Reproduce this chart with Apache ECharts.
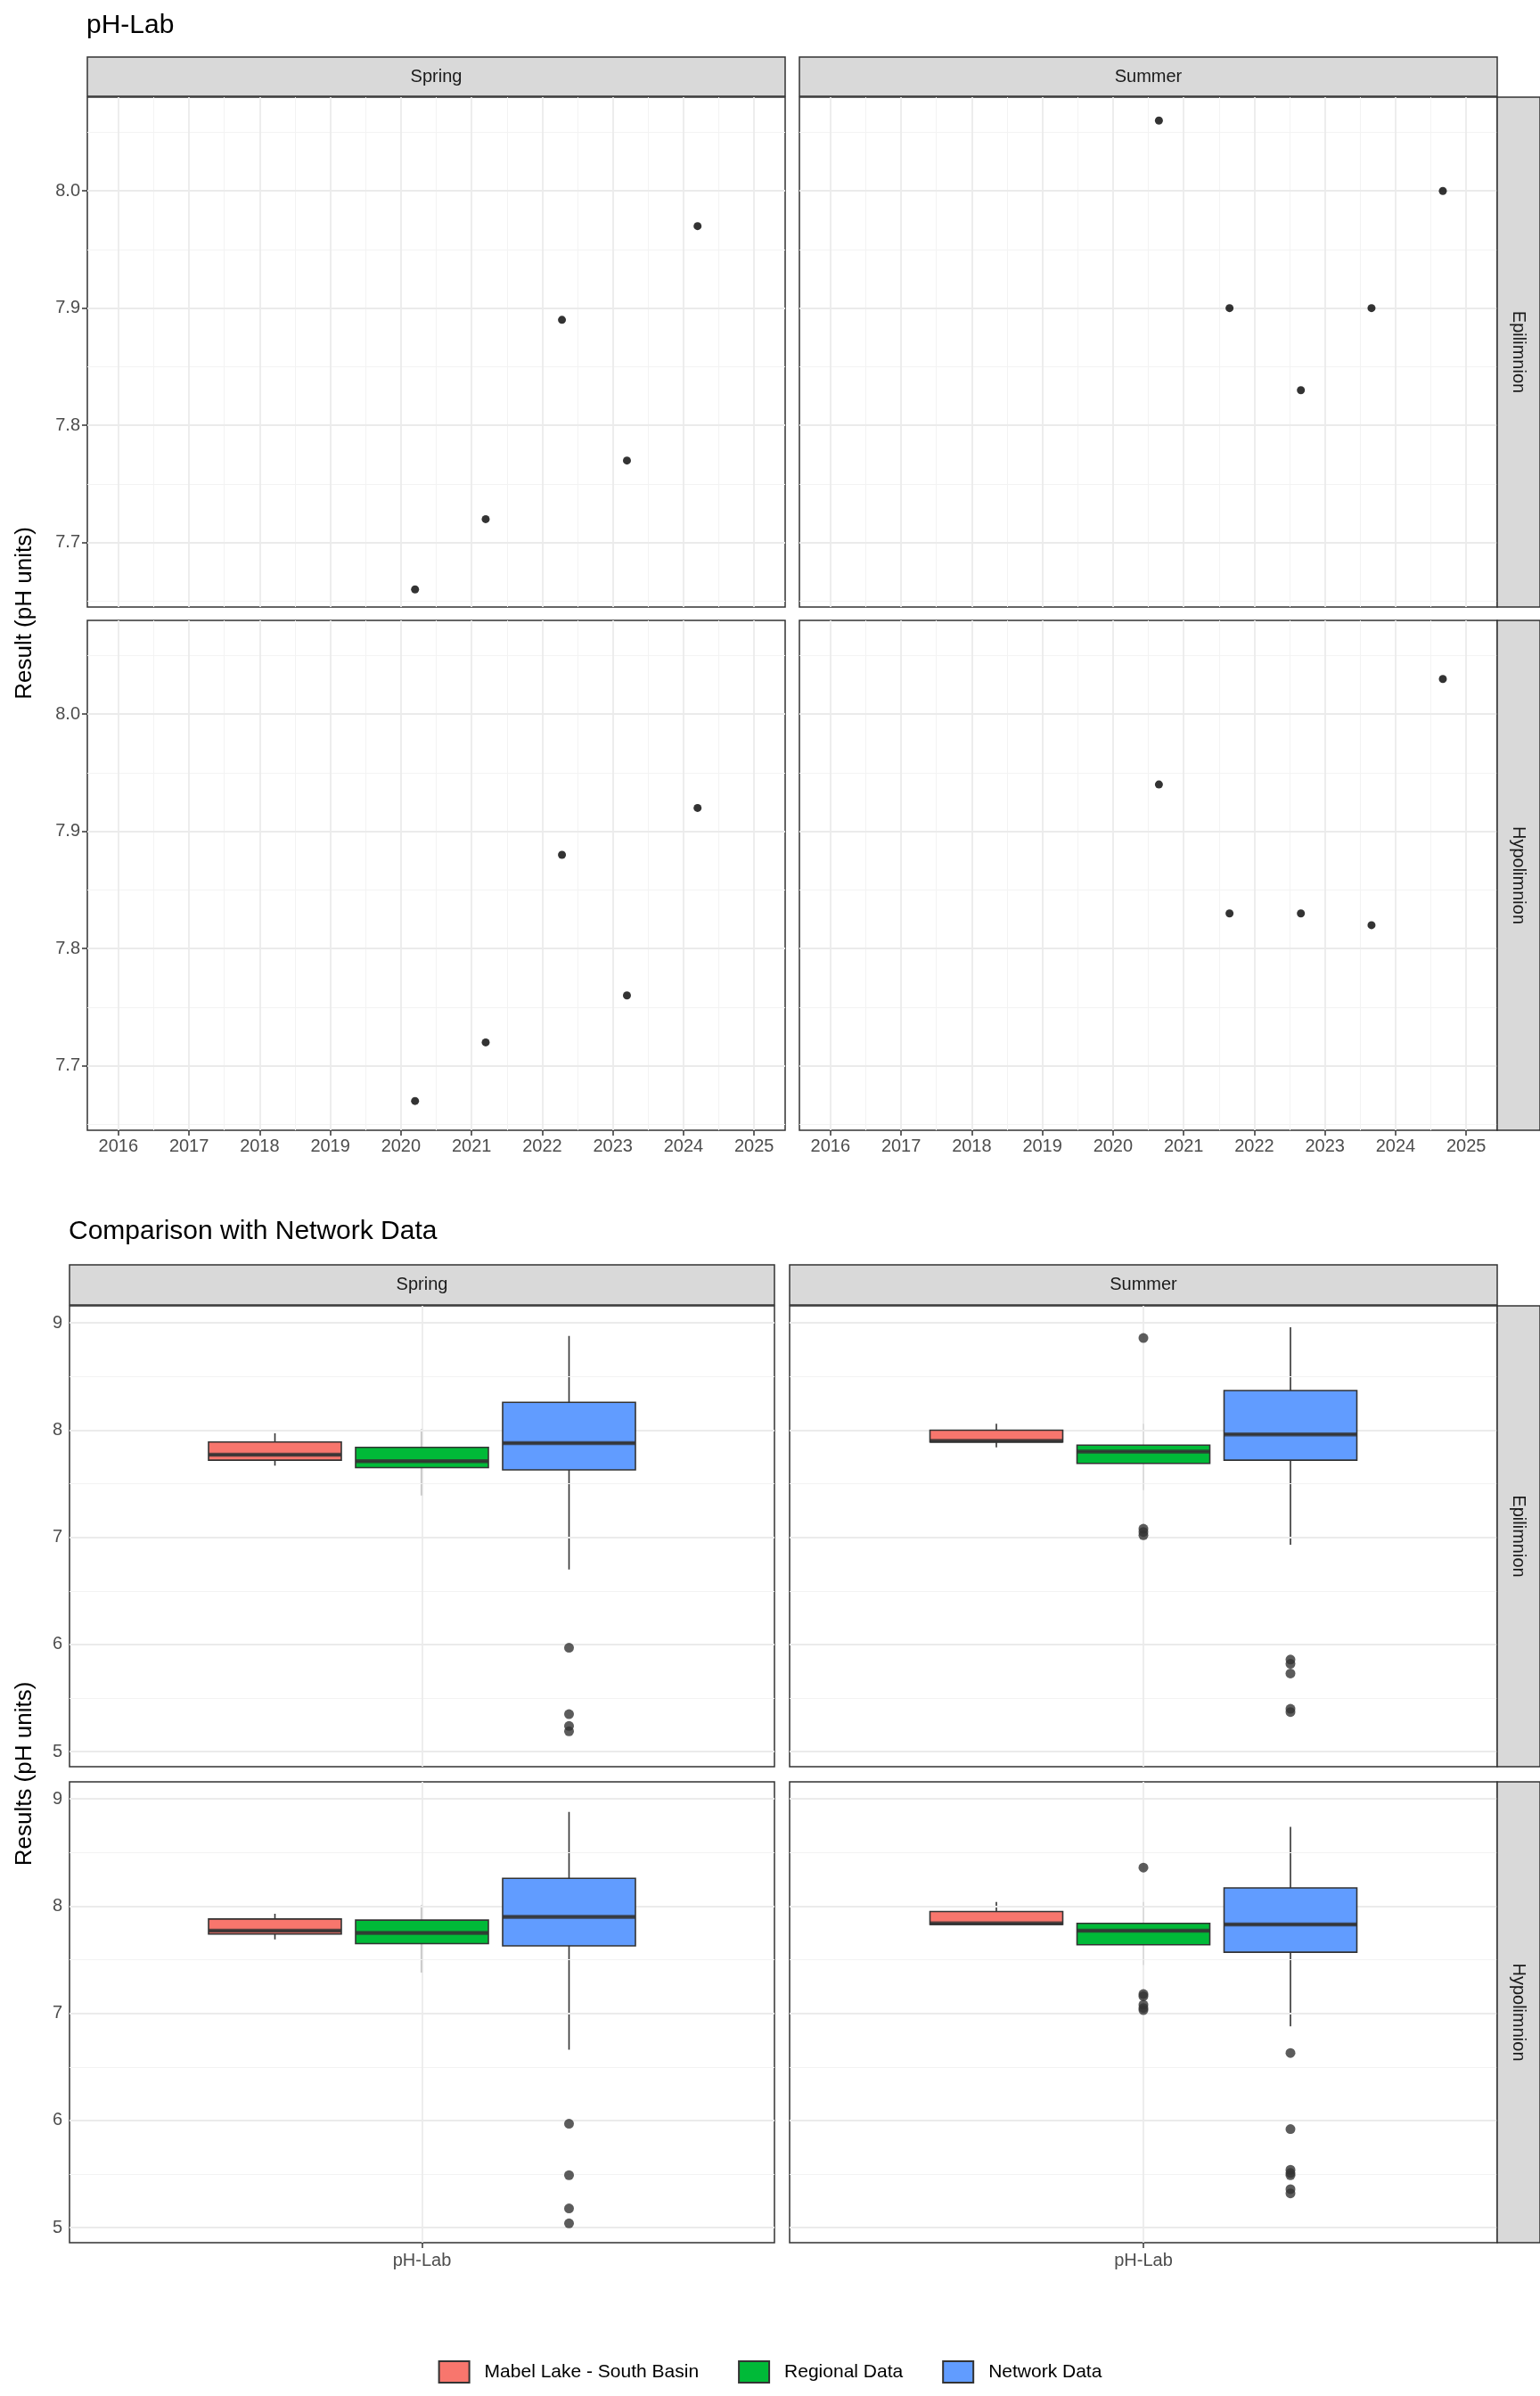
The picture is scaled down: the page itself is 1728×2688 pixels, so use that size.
<!DOCTYPE html>
<html>
<head>
<meta charset="utf-8">
<script src="https://cdn.jsdelivr.net/npm/echarts@6/dist/echarts.min.js"></script>
<style>html,body{margin:0;padding:0;background:#fff}#main{width:1728px;height:2688px}</style>
</head>
<body>
<div id="main"></div>
<script>
// time series: [decimal year, pH]
var springEpi = [[2020.2, 7.66], [2021.2, 7.72], [2022.28, 7.89], [2023.2, 7.77], [2024.2, 7.97]];
var summerEpi = [[2020.65, 8.06], [2021.65, 7.90], [2022.66, 7.83], [2023.66, 7.90], [2024.67, 8.00]];
var springHypo = [[2020.2, 7.67], [2021.2, 7.72], [2022.28, 7.88], [2023.2, 7.76], [2024.2, 7.92]];
var summerHypo = [[2020.65, 7.94], [2021.65, 7.83], [2022.66, 7.83], [2023.66, 7.82], [2024.67, 8.03]];
var yearTicks = [2016, 2017, 2018, 2019, 2020, 2021, 2022, 2023, 2024, 2025];
var phTicks = [7.7, 7.8, 7.9, 8.0];

// boxplots: [low, Q1, median, Q3, high] for Mabel Lake, Regional, Network
var groups = ['Mabel Lake - South Basin', 'Regional Data', 'Network Data'];
var groupColors = ['#F8766D', '#00BA38', '#619CFF'];
var boxSpringEpi = [[7.67, 7.72, 7.77, 7.89, 7.97], [7.39, 7.65, 7.71, 7.84, 8.01], [6.70, 7.63, 7.88, 8.26, 8.88]];
var boxSummerEpi = [[7.84, 7.89, 7.90, 8.00, 8.06], [7.44, 7.69, 7.80, 7.86, 8.06], [6.93, 7.72, 7.96, 8.37, 8.96]];
var boxSpringHypo = [[7.69, 7.74, 7.77, 7.88, 7.93], [7.38, 7.65, 7.75, 7.87, 8.01], [6.66, 7.63, 7.90, 8.26, 8.88]];
var boxSummerHypo = [[7.83, 7.83, 7.84, 7.95, 8.04], [7.45, 7.64, 7.77, 7.84, 8.04], [6.88, 7.57, 7.83, 8.17, 8.74]];
// outliers: [group index, value]
var outSpringEpi = [[2, 5.97], [2, 5.35], [2, 5.24], [2, 5.19]];
var outSummerEpi = [[1, 8.86], [1, 7.08], [1, 7.05], [1, 7.02], [2, 5.86], [2, 5.82], [2, 5.73], [2, 5.40], [2, 5.37]];
var outSpringHypo = [[2, 5.97], [2, 5.49], [2, 5.18], [2, 5.04]];
var outSummerHypo = [[1, 8.36], [1, 7.18], [1, 7.16], [1, 7.08], [1, 7.05], [1, 7.03], [2, 6.63], [2, 5.92], [2, 5.54], [2, 5.51], [2, 5.49], [2, 5.36], [2, 5.32]];
var resTicks = [5, 6, 7, 8, 9];

var chart = echarts.init(document.getElementById('main'));
var FONT = 'Liberation Sans, Arial, sans-serif';

var grids = [], xAxes = [], yAxes = [], series = [];
var majorStyle = {color: '#ebebeb', width: 1.8, type: 'solid'};
var minorStyle = {color: '#f3f3f3', width: 1, type: 'solid'};

function addGrid(l, t, w, h, show) {
  grids.push({left: l, top: t, width: w, height: h, show: show, borderColor: '#333', borderWidth: 1.5, backgroundColor: show ? '#fff' : 'transparent', z: 0});
  return grids.length - 1;
}

function gridLines(gi, xs, xsMinor, ys, ysMinor) {
  var d = [];
  xsMinor.forEach(function (v) { d.push({xAxis: v, lineStyle: minorStyle}); });
  ysMinor.forEach(function (v) { d.push({yAxis: v, lineStyle: minorStyle}); });
  xs.forEach(function (v) { d.push({xAxis: v, lineStyle: majorStyle}); });
  ys.forEach(function (v) { d.push({yAxis: v, lineStyle: majorStyle}); });
  series.push({type: 'scatter', xAxisIndex: gi, yAxisIndex: gi, data: [], silent: true, z: 1,
    markLine: {silent: true, symbol: 'none', label: {show: false}, animation: false, data: d}});
}

// ---- top: time series ----
var yrMinor = yearTicks.map(function (y) { return y + 0.5; }).concat([2015.5]);
var phMinor = [7.65, 7.75, 7.85, 7.95, 8.05];
var tsPanels = [
  {l: 98, t: 109, data: springEpi, xl: false, yl: true},
  {l: 897, t: 109, data: summerEpi, xl: false, yl: false},
  {l: 98, t: 696, data: springHypo, xl: true, yl: true},
  {l: 897, t: 696, data: summerHypo, xl: true, yl: false}
];
tsPanels.forEach(function (p) {
  var gi = addGrid(p.l, p.t, 783, 572, true);
  xAxes.push({type: 'value', gridIndex: gi, min: 2015.56, max: 2025.44, splitLine: {show: false}, axisLine: {show: false},
    axisTick: {show: p.xl, customValues: yearTicks, length: 6, lineStyle: {color: '#333', width: 1.5}},
    axisLabel: {show: p.xl, customValues: yearTicks, margin: 8, formatter: function (v) { return String(v); }, color: '#4d4d4d', fontSize: 20, fontFamily: FONT}});
  yAxes.push({type: 'value', gridIndex: gi, min: 7.645, max: 8.08, splitLine: {show: false}, axisLine: {show: false},
    axisTick: {show: p.yl, customValues: phTicks, length: 6, lineStyle: {color: '#333', width: 1.5}},
    axisLabel: {show: p.yl, customValues: phTicks, margin: 8, formatter: function (v) { return v.toFixed(1); }, color: '#4d4d4d', fontSize: 20, fontFamily: FONT}});
  gridLines(gi, yearTicks, yrMinor, phTicks, phMinor);
  series.push({type: 'scatter', xAxisIndex: gi, yAxisIndex: gi, data: p.data, symbolSize: 9, itemStyle: {color: '#000'}, z: 5});
});

// ---- bottom: boxplots ----
var resMinor = [5.5, 6.5, 7.5, 8.5];
var bxPanels = [
  {l: 78, t: 1465, w: 791, box: boxSpringEpi, out: outSpringEpi, xl: false, yl: true},
  {l: 886, t: 1465, w: 794, box: boxSummerEpi, out: outSummerEpi, xl: false, yl: false},
  {l: 78, t: 1999, w: 791, box: boxSpringHypo, out: outSpringHypo, xl: true, yl: true},
  {l: 886, t: 1999, w: 794, box: boxSummerHypo, out: outSummerHypo, xl: true, yl: false}
];
bxPanels.forEach(function (p) {
  var gi = addGrid(p.l, p.t, p.w, 517, true);
  xAxes.push({type: 'value', gridIndex: gi, min: -1, max: 1, splitLine: {show: false}, axisLine: {show: false},
    axisTick: {show: p.xl, customValues: [0], length: 6, lineStyle: {color: '#333', width: 1.5}},
    axisLabel: {show: p.xl, customValues: [0], margin: 10, formatter: function () { return 'pH-Lab'; }, color: '#4d4d4d', fontSize: 20, fontFamily: FONT}});
  yAxes.push({type: 'value', gridIndex: gi, min: 4.86, max: 9.16, splitLine: {show: false}, axisLine: {show: false},
    axisTick: {show: p.yl, customValues: resTicks, length: 6, lineStyle: {color: '#333', width: 1.5}},
    axisLabel: {show: p.yl, customValues: resTicks, margin: 8, formatter: function (v) { return String(v); }, color: '#4d4d4d', fontSize: 20, fontFamily: FONT}});
  gridLines(gi, [0], [], resTicks, resMinor);
});
bxPanels.forEach(function (p) {
  var bw = 495;
  var gi = addGrid(p.l + (p.w - bw) / 2, p.t, bw, 517, false);
  xAxes.push({type: 'category', gridIndex: gi, data: groups, show: false});
  yAxes.push({type: 'value', gridIndex: gi, min: 4.86, max: 9.16, show: false, splitLine: {show: false}});
  // whiskers (no caps, like ggplot)
  p.box.forEach(function (b, i) {
    [[b[0], b[1]], [b[3], b[4]]].forEach(function (seg) {
      series.push({type: 'line', xAxisIndex: gi, yAxisIndex: gi, symbol: 'none', silent: true, z: 4,
        lineStyle: {color: '#333', width: 1.6}, data: [[i, seg[0]], [i, seg[1]]]});
    });
  });
  // boxes without whiskers: low = Q1, high = Q3
  series.push({type: 'boxplot', xAxisIndex: gi, yAxisIndex: gi, boxWidth: [149, 149], z: 5,
    data: p.box.map(function (b, i) {
      return {value: [b[1], b[1], b[2], b[3], b[3]], itemStyle: {color: groupColors[i], borderColor: '#333', borderWidth: 1.6}};
    })});
  series.push({type: 'scatter', xAxisIndex: gi, yAxisIndex: gi, symbol: 'rect', symbolSize: [149, 4.5], z: 6, silent: true,
    itemStyle: {color: '#333'}, data: p.box.map(function (b, i) { return [i, b[2]]; })});
  series.push({type: 'scatter', xAxisIndex: gi, yAxisIndex: gi, symbolSize: 11, z: 6,
    itemStyle: {color: '#333'}, data: p.out});
});

// legend helper series
groups.forEach(function (g, i) {
  series.push({type: 'bar', name: g, xAxisIndex: 8, yAxisIndex: 8, data: [],
    itemStyle: {color: groupColors[i], borderColor: '#333', borderWidth: 1.5}});
});

function strip(x, y, w, h, text, vertical) {
  return {type: 'group', children: [
    {type: 'rect', shape: {x: x, y: y, width: w, height: h}, style: {fill: '#d9d9d9', stroke: '#333', lineWidth: 1.5}, z: 10},
    {type: 'text', x: x + w / 2, y: y + h / 2, rotation: vertical ? -Math.PI / 2 : 0,
      style: {text: text, fill: '#1a1a1a', font: '20px ' + FONT, textAlign: 'center', textVerticalAlign: 'middle'}, z: 11}
  ]};
}

var graphics = [
  {type: 'text', left: 97, top: 14, style: {text: 'pH-Lab', fill: '#000', font: '30px ' + FONT}},
  {type: 'text', left: 77, top: 1367, style: {text: 'Comparison with Network Data', fill: '#000', font: '30px ' + FONT}},
  {type: 'text', x: 28, y: 688, rotation: Math.PI / 2, style: {text: 'Result (pH units)', fill: '#000', font: '26px ' + FONT, textAlign: 'center', textVerticalAlign: 'middle'}},
  {type: 'text', x: 28, y: 1990, rotation: Math.PI / 2, style: {text: 'Results (pH units)', fill: '#000', font: '26px ' + FONT, textAlign: 'center', textVerticalAlign: 'middle'}},
  strip(98, 64, 783, 44, 'Spring'),
  strip(897, 64, 783, 44, 'Summer'),
  strip(1680, 109, 48, 572, 'Epilimnion', true),
  strip(1680, 696, 48, 572, 'Hypolimnion', true),
  strip(78, 1419, 791, 45, 'Spring'),
  strip(886, 1419, 794, 45, 'Summer'),
  strip(1680, 1465, 48, 517, 'Epilimnion', true),
  strip(1680, 1999, 48, 517, 'Hypolimnion', true)
];

chart.setOption({
  animation: false,
  backgroundColor: '#fff',
  grid: grids,
  xAxis: xAxes,
  yAxis: yAxes,
  series: series,
  legend: {data: groups, left: 'center', top: 2643, icon: 'rect', itemWidth: 34, itemHeight: 24, itemGap: 44,
    textStyle: {color: '#000', fontSize: 21, fontFamily: FONT, padding: [0, 0, 0, 12]}},
  graphic: graphics
});
window.addEventListener('resize', function () { chart.resize(); });
</script>
</body>
</html>
